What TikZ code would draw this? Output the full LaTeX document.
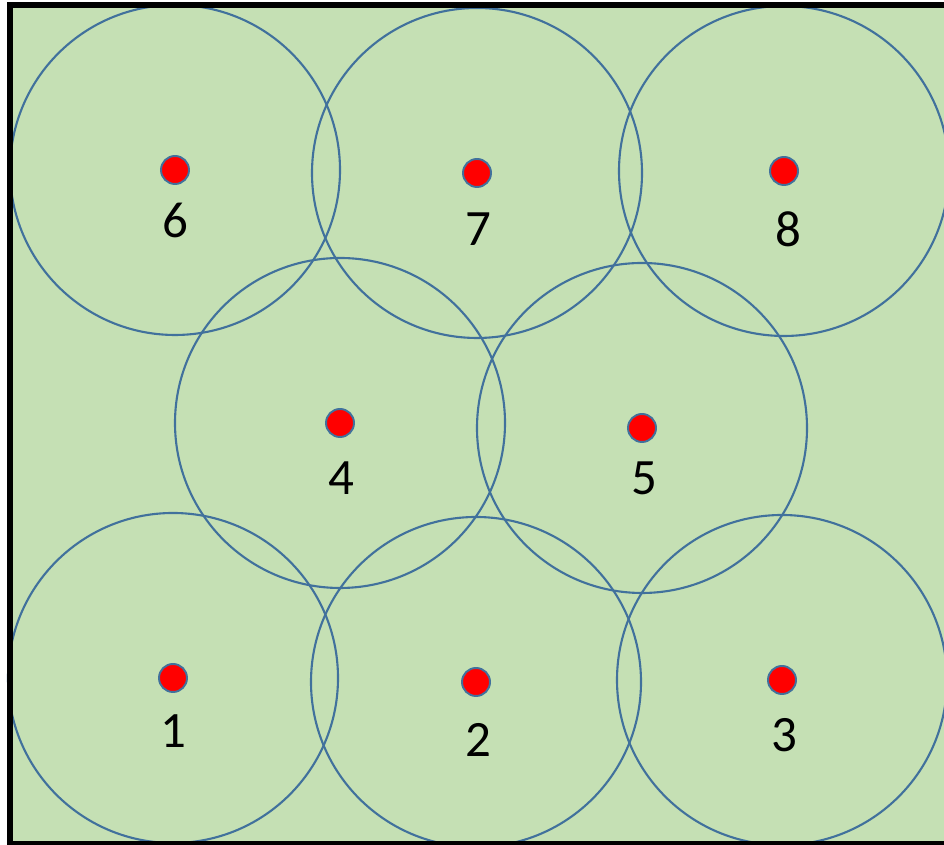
\documentclass[tikz,border=0pt]{standalone}
\usepackage{fontspec}
\setmainfont{Carlito}
\usepackage{xcolor}
\usetikzlibrary{positioning}

\definecolor{fieldgreen}{HTML}{C5E0B4}
\definecolor{rangeblue}{HTML}{41719C}

\begin{document}
\begin{tikzpicture}[
    on grid,
    sensor/.style={circle, draw=rangeblue, fill=red, line width=1.1pt, minimum size=0.56cm, inner sep=0pt},
    coverage/.style={draw=rangeblue, line width=1.2pt},
    num/.style={font=\fontsize{29}{33}\selectfont, inner sep=0pt}
]
\useasboundingbox (0,0) rectangle (18.88,16.9);
\clip (0,0) rectangle (18.88,16.9);

% field
\fill[fieldgreen] (0.2,0.02) rectangle (19.5,16.8);

% sensors
\node[sensor] (d1) at (3.46,3.34) {};
\node[sensor] (d2) at (9.52,3.26) {};
\node[sensor] (d3) at (15.64,3.30) {};
\node[sensor] (d4) at (6.80,8.44) {};
\node[sensor] (d5) at (12.84,8.34) {};
\node[sensor] (d6) at (3.50,13.50) {};
\node[sensor] (d7) at (9.54,13.44) {};
\node[sensor] (d8) at (15.68,13.48) {};

% sensing ranges
\foreach \s in {d1,d2,d3,d4,d5,d6,d7,d8}
    \draw[coverage] (\s.center) circle (3.3cm);

% labels
\node[num, below=1.06cm of d1] (n1) {1};
\node[num, below=1.16cm of d2, xshift=0.04cm] (n2) {2};
\node[num, below=1.1cm of d3, xshift=0.04cm] (n3) {3};
\node[num, below=1.1cm of d4, xshift=0.02cm] (n4) {4};
\node[num, below=1.0cm of d5, xshift=0.04cm] (n5) {5};
\node[num, below=1.0cm of d6] (n6) {6};
\node[num, below=1.12cm of d7, xshift=0.02cm] (n7) {7};
\node[num, below=1.16cm of d8, xshift=0.08cm] (n8) {8};

% frame
\draw[line width=0.12cm] (19.5,16.8) -- (0.2,16.8) -- (0.2,0.02) -- (19.5,0.02);

\end{tikzpicture}
\end{document}
